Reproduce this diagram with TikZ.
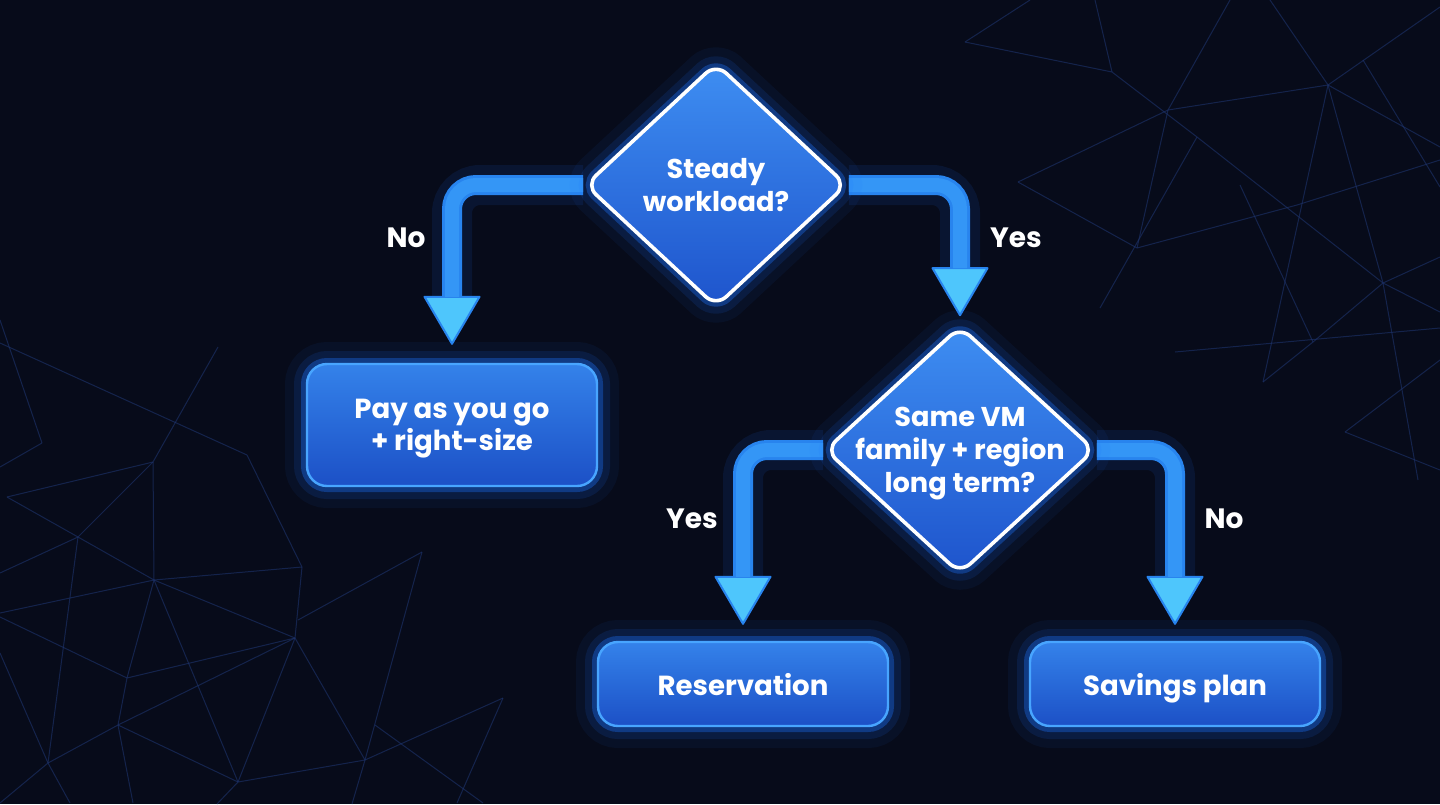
\documentclass[tikz,border=0pt]{standalone}
\usepackage{fontspec}
\setmainfont{Poppins}
\usetikzlibrary{shapes.geometric,arrows.meta,positioning}
\definecolor{FondoNoche}{RGB}{7,11,26}
\definecolor{RedTenue}{RGB}{30,52,110}
\definecolor{BrilloAzul}{RGB}{30,115,255}
\definecolor{RomboArriba}{RGB}{62,142,242}
\definecolor{RomboAbajo}{RGB}{30,84,204}
\definecolor{CajaArriba}{RGB}{52,130,234}
\definecolor{CajaAbajo}{RGB}{28,80,198}
\definecolor{CajaBorde}{RGB}{72,165,255}
\definecolor{TuboFuera}{RGB}{40,132,238}
\definecolor{TuboDentro}{RGB}{52,150,246}
\definecolor{PuntaCian}{RGB}{78,198,252}

\pgfdeclarelayer{fondo}
\pgfdeclarelayer{tubos}
\pgfsetlayers{fondo,tubos,main}

\tikzset{
  glow/.style={preaction={draw=BrilloAzul,line width=22pt,opacity=.06},
               preaction={draw=BrilloAzul,line width=13pt,opacity=.12},
               preaction={draw=BrilloAzul,line width=6pt,opacity=.35}},
  decision/.style={diamond,draw=white,line width=1.8pt,rounded corners=7pt,
                   top color=RomboArriba,bottom color=RomboAbajo,
                   minimum width=131pt,minimum height=122pt,inner sep=0pt,glow},
  result/.style={rectangle,draw=CajaBorde,line width=1.2pt,rounded corners=10pt,
                 top color=CajaArriba,bottom color=CajaAbajo,
                 minimum width=145pt,glow},
  txt/.style={text=white,font=\bfseries\fontsize{13.6}{16.5}\selectfont,align=center},
  onel/.style={txt,font=\bfseries\fontsize{13.8}{16.5}\selectfont,anchor=base},
  lbl/.style={text=white,font=\bfseries\fontsize{14}{16}\selectfont},
  pipe/.style={draw=TuboFuera,line width=10pt,rounded corners=12pt,
               -{Triangle[width=29pt,length=25pt,fill=PuntaCian,line width=1pt,round]}},
  pipecore/.style={draw=TuboDentro,line width=7pt,rounded corners=12pt},
  pipeglow/.style={draw=BrilloAzul,line width=20pt,rounded corners=14pt,opacity=.1},
  netline/.style={draw=RedTenue,line width=.5pt,opacity=.6},
}

\begin{document}
\begin{tikzpicture}[x=0.5pt,y=-0.5pt]
  \useasboundingbox (0,0) rectangle (1440,804);

  % fondo con red de lineas
  \begin{pgfonlayer}{fondo}
    \fill[FondoNoche] (0,0) rectangle (1440,804);
    \foreach \xa/\ya/\xb/\yb in {
      0/320/42/443, 42/443/0/467, 7/497/153/462, 7/497/78/537, 78/537/153/462,
      153/462/154/580, 78/537/154/580, 154/580/302/567, 0/343/247/455,
      247/455/302/567, 218/347/153/462, 78/537/48/763, 0/573/78/537,
      0/613/154/580, 0/617/127/678, 154/580/295/638, 302/567/295/638,
      298/620/422/552, 127/678/295/638, 127/678/154/580, 127/678/118/725,
      118/725/295/638, 118/725/48/763, 48/763/0/803, 118/725/238/782,
      154/580/238/782, 295/638/238/782, 295/638/365/760, 238/782/365/760,
      365/760/422/552, 365/760/503/698, 375/725/483/803, 503/698/457/803,
      0/653/48/763, 48/763/70/803, 118/725/133/803, 238/782/217/804,
      365/760/352/804}
      \draw[netline] (\xa,\ya) -- (\xb,\yb);
    \foreach \xa/\ya/\xb/\yb in {
      965/42/1030/0, 965/42/1112/72, 1112/72/1095/0, 1112/72/1197/137,
      1197/137/1383/283, 1168/110/1328/85, 1168/110/1230/0, 1168/110/1137/248,
      1018/182/1168/110, 1018/182/1137/248, 1137/248/1297/205, 1297/205/1440/160,
      1197/137/1100/308, 1328/85/1270/0, 1328/85/1440/7, 1328/85/1263/382,
      1328/85/1383/283, 1328/85/1440/147, 1240/185/1313/342, 1313/342/1383/283,
      1175/352/1440/328, 1263/382/1313/342, 1383/283/1440/257, 1383/283/1440/312,
      1383/283/1418/480, 1345/432/1440/360, 1345/432/1440/470, 1363/60/1440/187}
      \draw[netline] (\xa,\ya) -- (\xb,\yb);
  \end{pgfonlayer}

  % preguntas
  \node[decision] (q1) at (716,185) {};
  \node[txt] (q1t) at (q1.center) {Steady\\workload?};
  \node[decision,minimum width=135pt,minimum height=124pt] (q2) at (960,450) {};
  \node[txt] (q2t) at ([yshift=-2pt]q2.center) {Same VM\\family + region\\long term?};

  % resultados
  \node[result,minimum height=61pt] (pay) at (452,425) {};
  \node[txt,font=\bfseries\fontsize{13.8}{16}\selectfont] (payt) at ([yshift=-2pt]pay.center) {Pay as you go\\+ right-size};
  \node[result,minimum height=42pt] (res) at (743,684) {};
  \node[onel] (rest) at ([yshift=-5.5pt]res.center) {Reservation};
  \node[result,minimum height=42pt] (sav) at (1175,684) {};
  \node[onel] (savt) at ([yshift=-5.5pt]sav.center) {Savings plan};

  % tubos
  \begin{pgfonlayer}{tubos}
    \foreach \src/\dst/\gap in {q1.west/pay/9, q1.east/q2/4, q2.west/res/8, q2.east/sav/8} {
      \draw[pipeglow,shorten >=\gap pt+20pt] (\src) -| (\dst.north);
      \draw[pipe,shorten >=\gap pt] (\src) -| (\dst.north);
      \draw[pipecore,shorten >=\gap pt+24pt] (\src) -| (\dst.north);
    }
  \end{pgfonlayer}

  % etiquetas
  \node[lbl] (no1) at (406,238) {No};
  \node[lbl] (yes1) at (1016,238) {Yes};
  \node[lbl] (yes2) at (692,519) {Yes};
  \node[lbl] (no2) at (1224,519) {No};
\end{tikzpicture}
\end{document}
